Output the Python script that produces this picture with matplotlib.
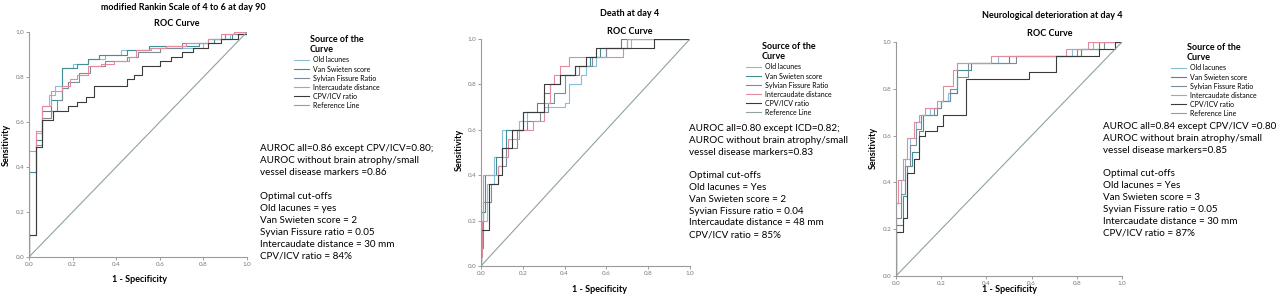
import numpy as np
import matplotlib
matplotlib.use('Agg')
import matplotlib.pyplot as plt

plt.rcParams['font.family'] = ['Lato', 'DejaVu Sans']

W, H = 1280, 296

series_names = ['Old lacunes', 'Van Swieten score', 'Sylvian Fissure Ratio',
                'Intercaudate distance', 'CPV/ICV ratio']
series_colors = ['#86bedc', '#3f8f94', '#7d8c99', '#e38a9c', '#3b3b3b']
ref_color = '#8fa39b'

# --- panel 1: modified Rankin Scale 4-6 at day 90 (step points, where='post')
mrs_x = [
    [0, 0, 0.03, 0.06, 0.09, 0.12, 0.15, 0.2, 0.27, 0.35, 0.42, 0.55, 0.8, 0.85, 0.92, 1],
    [0, 0, 0.03, 0.06, 0.1, 0.15, 0.22, 0.27, 0.32, 0.45, 0.55, 0.78, 0.85, 0.93, 1],
    [0, 0, 0.03, 0.06, 0.1, 0.13, 0.15, 0.18, 0.23, 0.28, 0.35, 0.45, 0.5, 0.6, 0.7, 0.82, 0.9, 1],
    [0, 0, 0.03, 0.06, 0.1, 0.15, 0.19, 0.22, 0.27, 0.33, 0.39, 0.46, 0.49, 0.56, 0.63, 0.72, 0.82, 0.88, 0.94, 1],
    [0, 0, 0.03, 0.06, 0.11, 0.18, 0.22, 0.26, 0.3, 0.45, 0.48, 0.52, 0.6, 0.65, 0.7, 0.75, 0.82, 0.88, 0.96, 1],
]
mrs_y = [
    [0, 0.38, 0.55, 0.67, 0.72, 0.76, 0.84, 0.86, 0.88, 0.9, 0.92, 0.93, 0.95, 0.97, 0.99, 1],
    [0, 0.38, 0.52, 0.65, 0.7, 0.84, 0.86, 0.88, 0.9, 0.92, 0.94, 0.95, 0.97, 0.99, 1],
    [0, 0.1, 0.5, 0.62, 0.65, 0.7, 0.75, 0.78, 0.82, 0.85, 0.87, 0.89, 0.91, 0.93, 0.95, 0.97, 0.99, 1],
    [0, 0.47, 0.56, 0.67, 0.74, 0.76, 0.79, 0.81, 0.85, 0.86, 0.87, 0.89, 0.92, 0.93, 0.94, 0.95, 0.97, 0.99, 1, 1],
    [0, 0.1, 0.49, 0.61, 0.65, 0.67, 0.69, 0.71, 0.76, 0.79, 0.81, 0.85, 0.87, 0.89, 0.91, 0.93, 0.95, 0.97, 0.99, 1],
]

# --- panel 2: death at day 4
death_x = [
    [0, 0, 0.03, 0.06, 0.1, 0.18, 0.22, 0.3, 0.4, 0.42, 0.48, 0.5, 0.55, 0.6, 0.72, 1],
    [0, 0, 0.02, 0.07, 0.1, 0.12, 0.2, 0.27, 0.3, 0.33, 0.38, 0.45, 0.52, 0.57, 0.67, 1],
    [0, 0, 0.01, 0.05, 0.08, 0.12, 0.17, 0.22, 0.28, 0.32, 0.35, 0.4, 0.47, 0.53, 0.6, 0.7, 1],
    [0, 0, 0.005, 0.01, 0.08, 0.1, 0.13, 0.18, 0.25, 0.3, 0.33, 0.35, 0.38, 0.42, 0.68, 0.7, 1],
    [0, 0, 0.04, 0.08, 0.1, 0.15, 0.2, 0.3, 0.38, 0.45, 0.5, 0.55, 0.83, 1],
]
death_y = [
    [0, 0.2, 0.36, 0.48, 0.6, 0.64, 0.68, 0.7, 0.72, 0.8, 0.84, 0.88, 0.92, 0.96, 1, 1],
    [0, 0.24, 0.4, 0.48, 0.52, 0.6, 0.68, 0.72, 0.76, 0.8, 0.84, 0.88, 0.92, 0.96, 1, 1],
    [0, 0.08, 0.28, 0.36, 0.44, 0.52, 0.6, 0.64, 0.68, 0.72, 0.76, 0.84, 0.88, 0.92, 0.96, 1, 1],
    [0, 0.04, 0.2, 0.4, 0.44, 0.48, 0.56, 0.6, 0.64, 0.72, 0.8, 0.84, 0.88, 0.92, 0.96, 1, 1],
    [0, 0.16, 0.36, 0.4, 0.52, 0.6, 0.68, 0.8, 0.84, 0.88, 0.92, 0.96, 1, 1],
]

# --- panel 3: neurological deterioration at day 4
neuro_x = [
    [0, 0, 0.02, 0.04, 0.06, 0.09, 0.11, 0.15, 0.2, 0.23, 0.27, 0.45, 0.78, 0.87, 1],
    [0, 0, 0.03, 0.05, 0.07, 0.1, 0.12, 0.18, 0.2, 0.24, 0.27, 0.33, 0.5, 0.82, 0.9, 1],
    [0, 0, 0.02, 0.04, 0.06, 0.09, 0.11, 0.17, 0.2, 0.24, 0.27, 0.32, 0.53, 0.8, 0.92, 1],
    [0, 0, 0.01, 0.03, 0.05, 0.08, 0.1, 0.13, 0.18, 0.21, 0.25, 0.27, 0.42, 0.75, 0.85, 1],
    [0, 0, 0.03, 0.05, 0.08, 0.1, 0.13, 0.18, 0.21, 0.31, 0.59, 0.71, 0.9, 0.97, 1],
]
neuro_y = [
    [0, 0.31, 0.41, 0.5, 0.59, 0.66, 0.69, 0.72, 0.75, 0.78, 0.91, 0.94, 0.97, 1, 1],
    [0, 0.22, 0.34, 0.47, 0.53, 0.62, 0.69, 0.72, 0.75, 0.78, 0.88, 0.91, 0.94, 0.97, 1, 1],
    [0, 0.25, 0.35, 0.47, 0.56, 0.63, 0.69, 0.72, 0.75, 0.8, 0.85, 0.91, 0.94, 0.97, 1, 1],
    [0, 0.31, 0.41, 0.5, 0.59, 0.66, 0.69, 0.72, 0.75, 0.81, 0.88, 0.91, 0.94, 0.97, 1, 1],
    [0, 0.19, 0.25, 0.44, 0.5, 0.6, 0.62, 0.64, 0.69, 0.84, 0.87, 0.94, 0.97, 1, 1],
]

titles = ['modified Rankin Scale of 4 to 6 at day 90', 'Death at day 4',
          'Neurological deterioration at day 4']

notes = [
    "AUROC all=0.86 except CPV/ICV=0.80;\nAUROC without brain atrophy/small\nvessel disease markers =0.86\n\n"
    "Optimal cut-offs\nOld lacunes = yes\nVan Swieten score = 2\nSyvian Fissure ratio = 0.05\n"
    "Intercaudate distance = 30 mm\nCPV/ICV ratio = 84%",
    "AUROC all=0.80 except ICD=0.82;\nAUROC without brain atrophy/small\nvessel disease markers=0.83\n\n"
    "Optimal cut-offs\nOld lacunes = Yes\nVan Swieten score = 2\nSyvian Fissure ratio = 0.04\n"
    "Intercaudate distance = 48 mm\nCPV/ICV ratio = 85%",
    "AUROC all=0.84 except CPV/ICV =0.80\nAUROC without brain atrophy/small\nvessel disease markers=0.85\n\n"
    "Optimal cut-offs\nOld lacunes = Yes\nVan Swieten score = 3\nSyvian Fissure ratio = 0.05\n"
    "Intercaudate distance = 30 mm\nCPV/ICV ratio = 87%",
]

# pixel layout of each panel: axes box (x0, x1, ytop, ybottom), title, ROC label,
# y label, x label, legend corner, note corner
layout = [
    dict(box=(29, 247, 32, 257), title=(183, 7), roc=(177, 24), ylab=(6, 145), xlab=(140, 280),
         leg=(294, 35), note=(260, 144), ls=1.42),
    dict(box=(481, 690, 39, 266), title=(630, 14), roc=(630, 32), ylab=(459, 150), xlab=(600, 290),
         leg=(746, 42), note=(689, 124), ls=1.40),
    dict(box=(896, 1122, 42, 276), title=(1052, 15), roc=(1050, 33), ylab=(873, 148), xlab=(1010, 290),
         leg=(1171, 43), note=(1103, 122), ls=1.41),
]
all_x = [mrs_x, death_x, neuro_x]
all_y = [mrs_y, death_y, neuro_y]

fig = plt.figure(figsize=(W / 100, H / 100), dpi=100)
fig.patch.set_facecolor('white')


def fx(px):
    return px / W


def fy(py):
    return 1 - py / H


for k in range(3):
    L = layout[k]
    x0, x1, yt, yb = L['box']
    ax = fig.add_axes([fx(x0), fy(yb), (x1 - x0) / W, (yb - yt) / H])
    handles = []
    for i in range(5):
        ln, = ax.step(all_x[k][i], all_y[k][i], where='post', color=series_colors[i], lw=0.8)
        handles.append(ln)
    ref, = ax.plot([0, 1], [0, 1], color=ref_color, lw=0.8)
    handles.append(ref)

    ax.set_xlim(0, 1)
    ax.set_ylim(0, 1)
    ax.set_xticks(np.arange(0, 1.01, 0.2))
    ax.set_yticks(np.arange(0, 1.01, 0.2))
    ax.xaxis.set_major_formatter(matplotlib.ticker.FormatStrFormatter('%.1f'))
    ax.yaxis.set_major_formatter(matplotlib.ticker.FormatStrFormatter('%.1f'))
    ax.tick_params(labelsize=4.5, colors='#777777', length=2, width=0.5, pad=1.5)
    for s in ['top', 'right']:
        ax.spines[s].set_visible(False)
    for s in ['left', 'bottom']:
        ax.spines[s].set_color('#9a9a9a')
        ax.spines[s].set_linewidth(0.8)

    fig.text(fx(L['title'][0]), fy(L['title'][1]), titles[k], ha='center', va='center',
             fontsize=6.5, fontweight='bold')
    fig.text(fx(L['roc'][0]), fy(L['roc'][1]), 'ROC Curve', ha='center', va='center',
             fontsize=6.5, fontweight='bold')
    fig.text(fx(L['ylab'][0]), fy(L['ylab'][1]), 'Sensitivity', ha='center', va='center',
             rotation=90, fontsize=6.5, fontweight='bold')
    fig.text(fx(L['xlab'][0]), fy(L['xlab'][1]), '1 - Specificity', ha='center', va='center',
             fontsize=6.5, fontweight='bold')

    ax.legend(handles, series_names + ['Reference Line'], loc='upper left',
              bbox_to_anchor=(fx(L['leg'][0]), fy(L['leg'][1])), bbox_transform=fig.transFigure,
              frameon=False, fontsize=5, title='Source of the\nCurve',
              title_fontproperties={'weight': 'bold', 'size': 6.5},
              handlelength=2.2, handletextpad=0.5, labelspacing=0.3,
              borderpad=0, borderaxespad=0)

    fig.text(fx(L['note'][0]), fy(L['note'][1]), notes[k], ha='left', va='top',
             fontsize=7.1, linespacing=L['ls'])

fig.savefig('out.png', dpi=100)
